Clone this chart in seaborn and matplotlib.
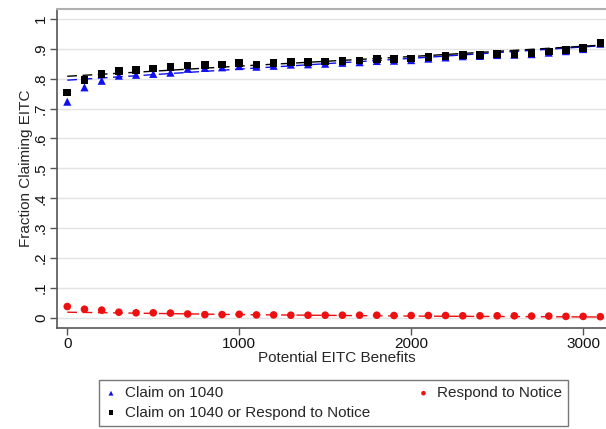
import numpy as np
import pandas as pd
import matplotlib
matplotlib.use("Agg")
import matplotlib.pyplot as plt
import seaborn as sns

# Potential EITC benefit bins (dollars)
benefits = [0, 100, 200, 300, 400, 500, 600, 700, 800, 900, 1000, 1100, 1200, 1300,
            1400, 1500, 1600, 1700, 1800, 1900, 2000, 2100, 2200, 2300, 2400, 2500,
            2600, 2700, 2800, 2900, 3000, 3100]

claim_1040 = [0.723, 0.771, 0.793, 0.810, 0.813, 0.816, 0.820, 0.833, 0.836, 0.838,
              0.842, 0.840, 0.843, 0.847, 0.848, 0.850, 0.853, 0.855, 0.859, 0.860,
              0.862, 0.867, 0.871, 0.875, 0.876, 0.879, 0.880, 0.882, 0.887, 0.892,
              0.899, 0.917]

claim_or_respond = [0.754, 0.796, 0.815, 0.825, 0.829, 0.834, 0.840, 0.844, 0.846, 0.848,
                    0.852, 0.848, 0.852, 0.855, 0.855, 0.857, 0.860, 0.861, 0.865, 0.865,
                    0.867, 0.872, 0.876, 0.880, 0.880, 0.883, 0.883, 0.885, 0.891, 0.896,
                    0.902, 0.919]

respond_notice = [0.038, 0.029, 0.026, 0.019, 0.017, 0.017, 0.016, 0.013, 0.011, 0.011,
                  0.012, 0.010, 0.010, 0.009, 0.009, 0.009, 0.009, 0.009, 0.009, 0.008,
                  0.008, 0.008, 0.008, 0.007, 0.007, 0.007, 0.007, 0.006, 0.006, 0.005,
                  0.005, 0.004]

# Fitted values for the dashed trend lines
fit_x = [0, 1000, 2000, 3100]
fit_claim_1040 = [0.795, 0.832, 0.868, 0.910]
fit_claim_or_respond = [0.808, 0.842, 0.874, 0.912]
fit_respond_notice = [0.019, 0.011, 0.006, 0.003]

y_ticks = [0, 0.1, 0.2, 0.3, 0.4, 0.5, 0.6, 0.7, 0.8, 0.9, 1.0]
y_tick_labels = ["0", ".1", ".2", ".3", ".4", ".5", ".6", ".7", ".8", ".9", "1"]
x_ticks = [0, 1000, 2000, 3000]

sns.set_style("white")
plt.rcParams["font.family"] = ["Liberation Sans", "DejaVu Sans"]

pts = pd.DataFrame({"benefit": benefits, "c1040": claim_1040,
                    "both": claim_or_respond, "notice": respond_notice})
fits = pd.DataFrame({"benefit": fit_x, "c1040": fit_claim_1040,
                     "both": fit_claim_or_respond, "notice": fit_respond_notice})

fig = plt.figure(figsize=(6.06, 4.29), dpi=100)
ax = fig.add_axes([0.094, 0.236, 0.925, 0.743])

for col, color in [("c1040", "#1010ee"), ("both", "black"), ("notice", "#ee1010")]:
    sns.lineplot(data=fits, x="benefit", y=col, ax=ax, color=color, lw=1.0,
                 dashes=False, legend=False, zorder=2)
for ln in ax.lines[:3]:
    ln.set_dashes((7, 4))

sns.scatterplot(data=pts, x="benefit", y="c1040", ax=ax, marker="^", s=34,
                color="#1010ee", edgecolor="none", label="Claim on 1040", zorder=3)
sns.scatterplot(data=pts, x="benefit", y="both", ax=ax, marker="s", s=30,
                color="black", edgecolor="none",
                label="Claim on 1040 or Respond to Notice", zorder=4)
sns.scatterplot(data=pts, x="benefit", y="notice", ax=ax, marker="o", s=30,
                color="#ee1010", edgecolor="none", label="Respond to Notice", zorder=3)

ax.set_xlim(-60, 3200)
ax.set_ylim(-0.033, 1.033)
ax.set_yticks(y_ticks)
ax.set_yticklabels(y_tick_labels, rotation=90, va="center")
ax.set_xticks(x_ticks)
ax.set_xticklabels([str(v) for v in x_ticks])
ax.tick_params(axis="both", direction="out", length=5, width=1, color="#555555",
               labelsize=11, labelcolor="#111111", pad=2)
ax.tick_params(axis="x", bottom=True, pad=1.5)
ax.tick_params(axis="y", left=True, pad=1.5)

ax.yaxis.grid(True, color="#e3e3e3", lw=1.0)
ax.xaxis.grid(False)
ax.set_axisbelow(True)

for side in ["left", "bottom"]:
    ax.spines[side].set_color("#555555")
    ax.spines[side].set_linewidth(1.2)
ax.spines["top"].set_color("#b0b0b0")
ax.spines["top"].set_linewidth(1.5)
ax.spines["right"].set_visible(False)

ax.set_xlabel("Potential EITC Benefits", fontsize=11, labelpad=0)
ax.set_ylabel("Fraction Claiming EITC", fontsize=11, labelpad=1)

handles, labels = ax.get_legend_handles_labels()
if ax.legend_:
    ax.legend_.remove()
leg = fig.legend(handles, labels, loc="upper left", bbox_to_anchor=(0.163, 0.114),
                 ncol=2, frameon=True, fancybox=False, fontsize=11,
                 handlelength=0.8, handletextpad=0.5, columnspacing=3.1,
                 borderpad=0.4, labelspacing=0.35, markerscale=0.6,
                 borderaxespad=0)
leg.get_frame().set_edgecolor("#555555")
leg.get_frame().set_linewidth(1.0)

fig.savefig("out.png", dpi=100)
